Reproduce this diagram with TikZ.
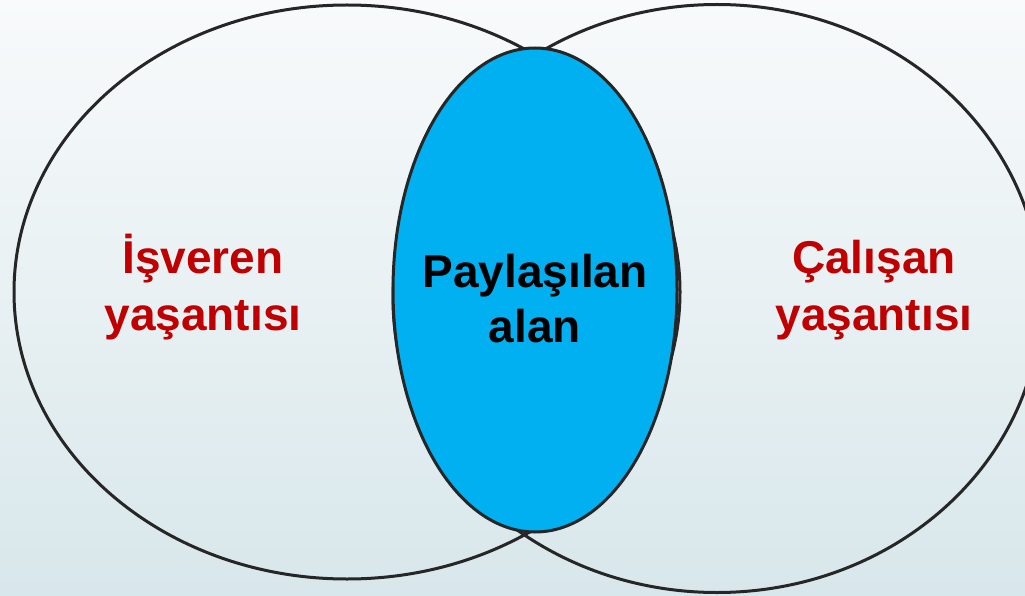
\documentclass[tikz,border=0pt]{standalone}
\usepackage{fontspec}
\setmainfont{Liberation Sans}
\definecolor{bgtop}{RGB}{248,250,251}
\definecolor{bgbot}{RGB}{216,231,235}
\definecolor{venn}{RGB}{38,38,38}
\definecolor{share}{RGB}{0,176,240}
\definecolor{lifered}{RGB}{192,0,0}
\tikzset{
  vennline/.style={draw=venn, line width=3pt},
  sidelabel/.style={font=\fontsize{46}{57}\selectfont\bfseries, text=lifered, align=center, anchor=base, inner sep=0pt},
  midlabel/.style={font=\fontsize{46}{55}\selectfont\bfseries, text=black, align=center, anchor=base, inner sep=0pt}
}
\begin{document}
\begin{tikzpicture}[x=1pt,y=-1pt]
\useasboundingbox (0,0) rectangle (1025,596);
\shade[top color=bgtop, bottom color=bgbot] (0,0) rectangle (1025,596);
\clip (0,0) rectangle (1025,596);
\draw[vennline] (347,292) ellipse [x radius=333, y radius=287];
\draw[vennline] (717,298.5) ellipse [x radius=324, y radius=294];
\draw[vennline, fill=share] (535,290) ellipse [x radius=142, y radius=242];
\node[sidelabel] (isveren) at (203,330) {İşveren\\yaşantısı};
\node[sidelabel] (calisan) at (874,330) {Çalışan\\yaşantısı};
\node[midlabel] (paylasilan) at (535,342) {Paylaşılan\\alan};
\end{tikzpicture}
\end{document}
